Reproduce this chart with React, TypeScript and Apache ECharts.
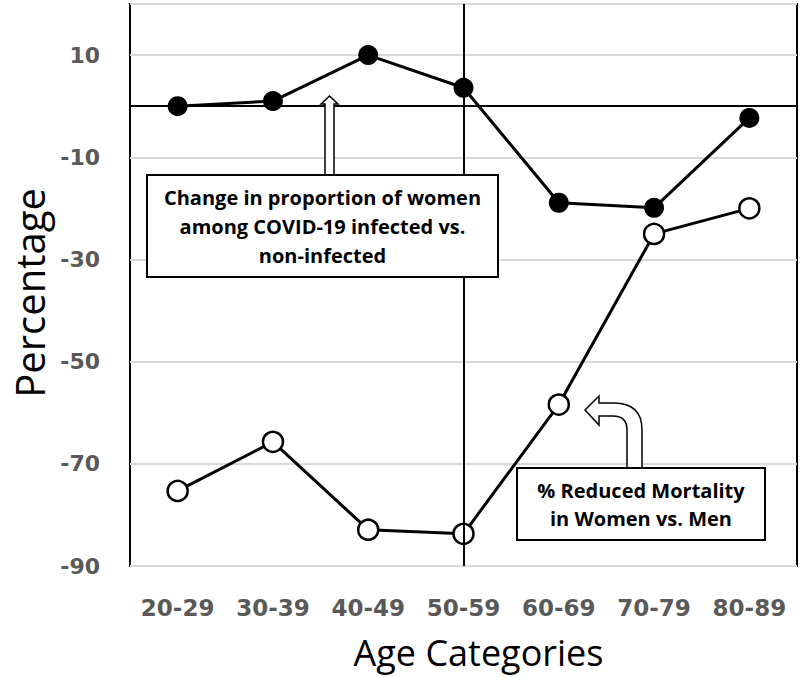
import React, { useEffect, useRef } from "react";
import * as echarts from "echarts";

const categories = ["20-29", "30-39", "40-49", "50-59", "60-69", "70-79", "80-89"];
const changeInProportion = [0, 1, 10, 3.6, -18.9, -19.9, -2.3];
const reducedMortality = [-75.3, -65.7, -82.9, -83.7, -58.4, -25, -20];
const yMin = -90;
const yMax = 20;
const yInterval = 20;
const referenceCategory = "50-59";
const annotation1 = "Change in proportion of women\namong COVID-19 infected vs.\nnon-infected";
const annotation2 = "% Reduced Mortality\nin Women vs. Men";

const curvedArrow =
  "M627 468 L627 430 Q627 416 613 416 L599 416 L599 425 L585 410 L599 396 L599 403 L614 403 Q642 403 642 430 L642 468 Z";
echarts.graphic.registerShape("curvedArrow", echarts.graphic.extendPath(curvedArrow, {}));

export default function App() {
  const ref = useRef<HTMLDivElement>(null);
  useEffect(() => {
    if (!ref.current) return;
    const chart = echarts.init(ref.current, null, { renderer: "svg" });
    const labelColor = "#595959";
    chart.setOption({
      animation: false,
      backgroundColor: "#fff",
      grid: {
        left: 130,
        right: 3,
        top: 4,
        bottom: 111,
        show: true,
        borderColor: "#000",
        borderWidth: 2,
        containLabel: false,
        outerBoundsMode: "none",
      },
      xAxis: {
        type: "category",
        data: categories,
        boundaryGap: true,
        axisLine: { show: false },
        axisTick: {
          show: true,
          alignWithLabel: true,
          interval: (i: number) => categories[i] === referenceCategory,
          length: 7,
          lineStyle: { color: "#000", width: 2 },
        },
        axisLabel: {
          color: labelColor,
          fontFamily: "DejaVu Sans",
          fontWeight: "bold",
          fontSize: 23,
          margin: 30,
          interval: 0,
          hideOverlap: false,
        },
        name: "Age Categories",
        nameLocation: "middle",
        nameGap: 68,
        nameTextStyle: {
          color: "#000",
          fontFamily: "Open Sans",
          fontSize: 36,
          padding: [0, 0, 0, 30],
        },
      },
      yAxis: {
        type: "value",
        min: yMin,
        max: yMax,
        interval: yInterval,
        axisLine: { show: false },
        axisTick: { show: false },
        splitLine: { show: true, lineStyle: { color: "#d9d9d9", width: 2 } },
        axisLabel: {
          color: labelColor,
          fontFamily: "DejaVu Sans",
          fontWeight: "bold",
          fontSize: 22,
          margin: 30,
          showMaxLabel: false,
        },
        name: "Percentage",
        nameLocation: "middle",
        nameGap: 80,
        nameTextStyle: {
          color: "#000",
          fontFamily: "Open Sans",
          fontSize: 40,
          padding: [0, 16, 0, 0],
        },
      },
      series: [
        {
          name: "Change in proportion",
          type: "line",
          data: changeInProportion,
          symbol: "circle",
          symbolSize: 20,
          itemStyle: { color: "#000" },
          lineStyle: { color: "#000", width: 3 },
          z: 3,
          markLine: {
            silent: true,
            symbol: "none",
            label: { show: false },
            lineStyle: { color: "#000", width: 2, type: "solid" },
            data: [{ yAxis: 0 }, { xAxis: referenceCategory }],
          },
        },
        {
          name: "Reduced mortality",
          type: "line",
          data: reducedMortality,
          symbol: "circle",
          symbolSize: 20,
          itemStyle: { color: "#fff", borderColor: "#000", borderWidth: 2.5 },
          lineStyle: { color: "#000", width: 3 },
          z: 4,
        },
      ],
      graphic: [
        {
          type: "polygon",
          z: 100,
          shape: {
            points: [
              [325, 176],
              [325, 104],
              [321, 104],
              [329.5, 96],
              [338, 104],
              [334, 104],
              [334, 176],
            ],
          },
          style: { fill: "#fff", stroke: "#000", lineWidth: 1.5 },
        },
        {
          type: "rect",
          z: 100,
          shape: { x: 147, y: 175, width: 351, height: 102 },
          style: { fill: "#fff", stroke: "#000", lineWidth: 2 },
        },
        {
          type: "text",
          z: 101,
          x: 322.5,
          y: 226.5,
          style: {
            text: annotation1,
            fill: "#000",
            font: "bold 20px 'Open Sans'",
            textAlign: "center",
            textVerticalAlign: "middle",
            lineHeight: 29,
          },
        },
        {
          type: "curvedArrow",
          z: 100,
          x: 0,
          y: 0,
          scaleX: 1,
          scaleY: 1,
          style: { fill: "#fff", stroke: "#000", lineWidth: 1.5 },
        },
        {
          type: "rect",
          z: 100,
          shape: { x: 517, y: 468, width: 248, height: 72 },
          style: { fill: "#fff", stroke: "#000", lineWidth: 2 },
        },
        {
          type: "text",
          z: 101,
          x: 641,
          y: 504,
          style: {
            text: annotation2,
            fill: "#000",
            font: "bold 20px 'Open Sans'",
            textAlign: "center",
            textVerticalAlign: "middle",
            lineHeight: 28,
          },
        },
      ],
    });
    return () => chart.dispose();
  }, []);
  return (
    <div
      ref={ref}
      style={{ position: "fixed", left: 0, top: 0, width: 800, height: 677, background: "#fff" }}
    />
  );
}
